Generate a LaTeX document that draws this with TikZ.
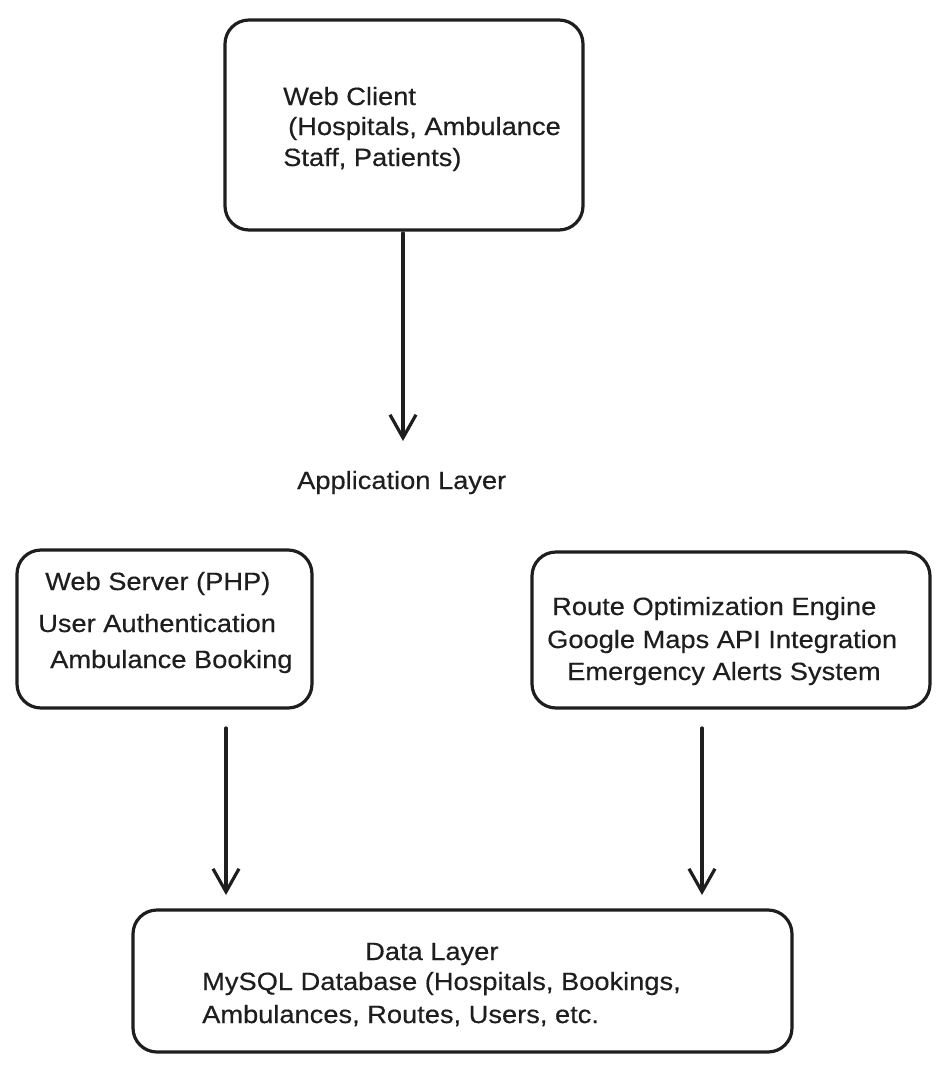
\documentclass[tikz,border=0pt]{standalone}
\usepackage{fontspec}
\setmainfont{Liberation Sans}[FakeStretch=1.09,FakeBold=0.4]
\usetikzlibrary{arrows.meta}
\definecolor{ink}{RGB}{30,30,30}
\begin{document}
\begin{tikzpicture}[x=1pt,y=-1pt,
  box/.style={draw=ink, line width=3.2pt, rounded corners=24pt, rectangle, inner sep=0pt},
  txt/.style={anchor=base west, inner sep=0pt, text=ink, font=\fontsize{25}{30}\selectfont},
  arr/.style={draw=ink, line width=3.2pt, line cap=round, -{Straight Barb[length=23pt,width=26pt,line width=3.2pt]}}]
\useasboundingbox (0,0) rectangle (952,1073);
% boxes
\node[box, minimum width=358pt, minimum height=210pt] (wc) at (404,125) {};
\node[box, minimum width=295pt, minimum height=158pt] (ws) at (164.5,629) {};
\node[box, minimum width=398pt, minimum height=156pt] (re) at (731,630) {};
\node[box, minimum width=659pt, minimum height=142pt] (db) at (462.5,981) {};
% texts
\node[txt] (wc1) at (283,105) {Web Client};
\node[txt] (wc2) at (288,135) {(Hospitals, Ambulance};
\node[txt] (wc3) at (283,166) {Staff, Patients)};
\node[txt] (app) at (297,489) {Application Layer};
\node[txt] (ws1) at (45,590) {Web Server (PHP)};
\node[txt] (ws2) at (38,632) {User Authentication};
\node[txt] (ws3) at (50,668) {Ambulance Booking};
\node[txt] (re1) at (552,615) {Route Optimization Engine};
\node[txt] (re2) at (547,648) {Google Maps API Integration};
\node[txt] (re3) at (567,680) {Emergency Alerts System};
\node[txt] (db1) at (365,960) {Data Layer};
\node[txt] (db2) at (202,990) {MySQL Database (Hospitals, Bookings,};
\node[txt] (db3) at (202,1023) {Ambulances, Routes, Users, etc.};
% connector ends
\coordinate (t0) at (403,233);
\coordinate (t1) at (403,441);
\coordinate (l0) at (226,728);
\coordinate (l1) at (226,895);
\coordinate (r0) at (702,728);
\coordinate (r1) at (702,895);
% arrows
\draw[arr] (t0) -- (t1);
\draw[arr] (l0) -- (l1);
\draw[arr] (r0) -- (r1);
\end{tikzpicture}
\end{document}
